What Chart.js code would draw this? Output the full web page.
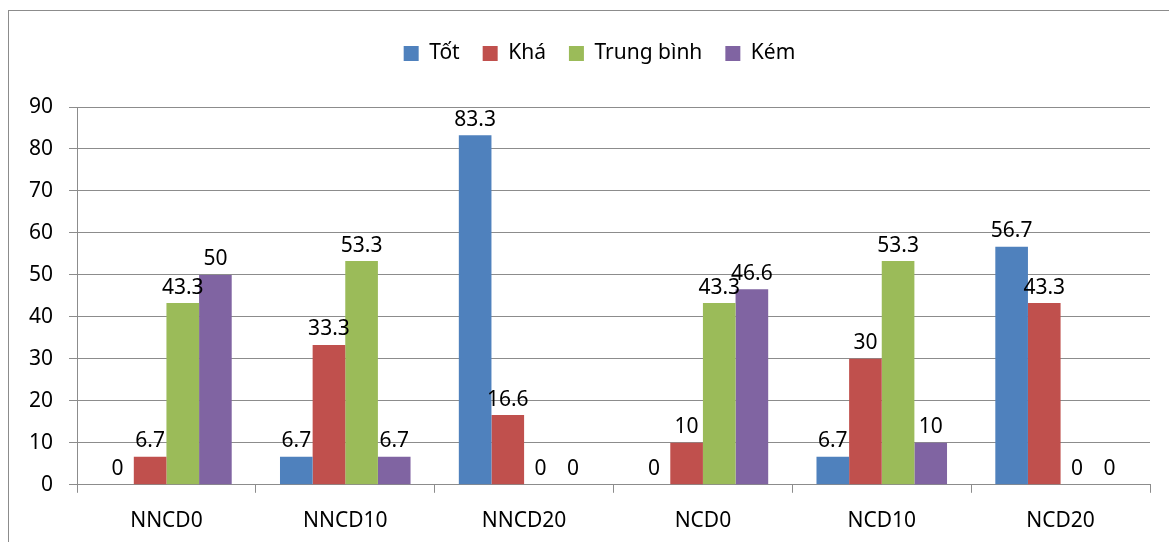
<!DOCTYPE html>
<html>
<head>
<meta charset="utf-8">
<script src="https://cdn.jsdelivr.net/npm/chart.js@4"></script>
<style>
  html, body { margin: 0; padding: 0; background: #fff; overflow: hidden; }
  #frame { position: absolute; left: 8px; top: 10px; width: 1170px; height: 540px; border: 1px solid #8c8c8c; }
  #wrap { position: absolute; left: 0; top: 0; width: 1169px; height: 542px; }
</style>
</head>
<body>
<div id="frame"></div>
<div id="wrap"><canvas id="chart"></canvas></div>
<script>
// dữ liệu
const categories = ['NNCD0', 'NNCD10', 'NNCD20', 'NCD0', 'NCD10', 'NCD20'];
const seriesNames = ['Tốt', 'Khá', 'Trung bình', 'Kém'];
const tot = [0, 6.7, 83.3, 0, 6.7, 56.7];
const kha = [6.7, 33.3, 16.6, 10, 30, 43.3];
const trungBinh = [43.3, 53.3, 0, 43.3, 53.3, 0];
const kem = [50, 6.7, 0, 46.6, 10, 0];
const yTicks = [0, 10, 20, 30, 40, 50, 60, 70, 80, 90];

const colors = ['#4F81BD', '#C0504D', '#9BBB59', '#8064A2'];
const FONT = 'Noto Sans';
const FSIZE = 21;

// vẽ nhãn giá trị phía trên cột
const valueLabels = {
    id: 'valueLabels',
    afterDatasetsDraw(chart) {
        const ctx = chart.ctx;
        ctx.save();
        ctx.font = FSIZE + 'px "' + FONT + '"';
        ctx.fillStyle = '#000';
        ctx.textAlign = 'center';
        ctx.textBaseline = 'bottom';
        chart.data.datasets.forEach(function(ds, i) {
            const meta = chart.getDatasetMeta(i);
            meta.data.forEach(function(bar, j) {
                ctx.fillText(String(ds.data[j]), bar.x, bar.y - 5);
            });
        });
        ctx.restore();
    }
};

// thêm khoảng trống dưới chú giải, dời chú giải sang phải một chút
const legendGap = {
    id: 'legendGap',
    beforeInit(chart) {
        const fit = chart.legend.fit;
        chart.legend.fit = function() {
            fit.bind(chart.legend)();
            this.height += 33;
        };
    },
    afterLayout(chart) {
        chart.legend.left += 36;
    }
};

const allSeries = [tot, kha, trungBinh, kem];

new Chart(document.getElementById('chart'), {
    type: 'bar',
    data: {
        labels: categories,
        datasets: allSeries.map(function(values, i) {
            return {
                label: seriesNames[i],
                data: values,
                backgroundColor: colors[i],
                barPercentage: 1,
                categoryPercentage: 0.73
            };
        })
    },
    options: {
        responsive: true,
        maintainAspectRatio: false,
        animation: false,
        layout: { padding: { left: 13, right: 19, top: 20, bottom: -8 } },
        scales: {
            y: {
                min: 0,
                max: 90,
                afterBuildTicks: function(axis) {
                    axis.ticks = yTicks.map(function(v) { return { value: v }; });
                },
                border: { color: '#8c8c8c', width: 1 },
                grid: { color: '#8c8c8c', tickLength: 8, tickColor: '#8c8c8c' },
                ticks: { color: '#000', font: { family: FONT, size: FSIZE }, padding: 16 }
            },
            x: {
                border: { color: '#8c8c8c', width: 1 },
                grid: { offset: true, drawOnChartArea: false, tickLength: 8, color: '#8c8c8c' },
                ticks: { color: '#000', font: { family: FONT, size: FSIZE }, padding: 16 }
            }
        },
        plugins: {
            legend: {
                position: 'top',
                labels: {
                    boxWidth: 15,
                    boxHeight: 15,
                    color: '#000',
                    padding: 23,
                    font: { family: FONT, size: FSIZE }
                }
            },
            tooltip: { enabled: false }
        }
    },
    plugins: [valueLabels, legendGap]
});
</script>
</body>
</html>
